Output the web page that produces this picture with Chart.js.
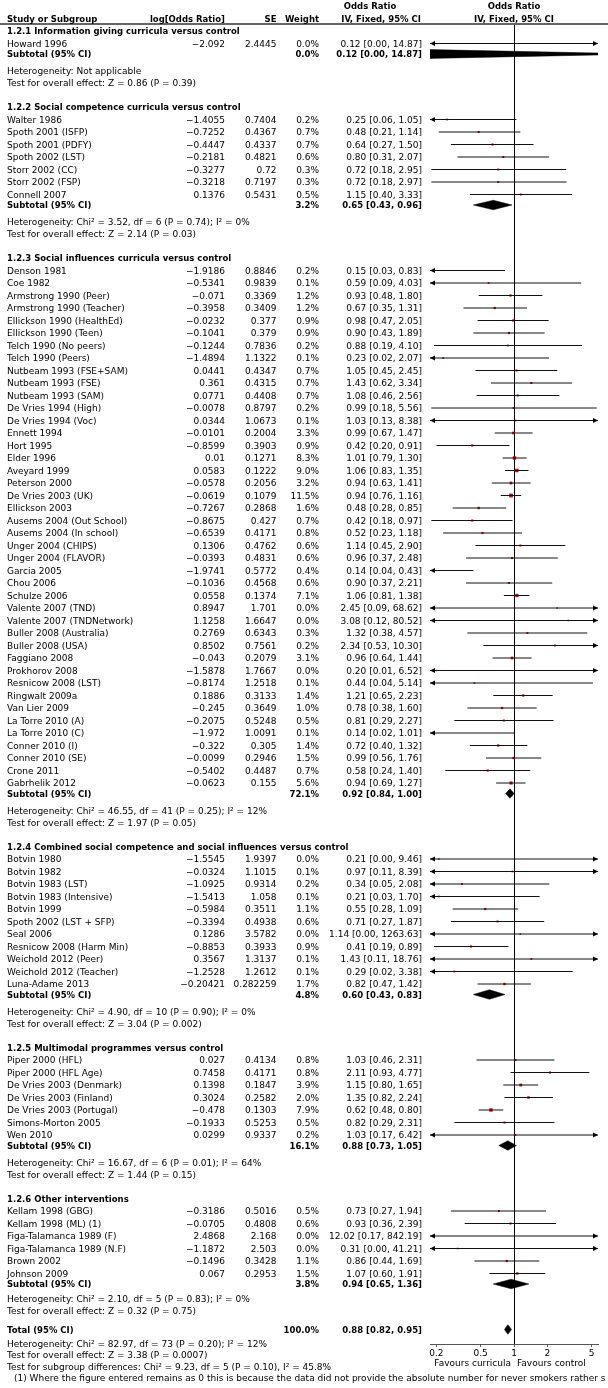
<!DOCTYPE html>
<html>
<head>
<meta charset="utf-8">
<script src="https://cdn.jsdelivr.net/npm/chart.js@4.4.1/dist/chart.umd.min.js"></script>
<style>
  html, body { margin: 0; padding: 0; background: #fff; }
  #wrap { position: relative; width: 608px; height: 1388px; overflow: hidden;
          font-family: "DejaVu Sans", sans-serif; font-size: 9px; color: #000; }
  #plot { position: absolute; left: 0; top: 0; }
  .t { position: absolute; white-space: nowrap; line-height: 12px; height: 12px; }
  .b { font-weight: bold; font-size: 8.5px; }
  .rule { position: absolute; left: 0; top: 23px; width: 608px; height: 2px; background: #666; }
</style>
</head>
<body>
<div id="wrap">
  <canvas id="plot" width="608" height="1388"></canvas>
  <div class="rule"></div>
</div>
<script>
// subgroups
const groupTitles = [
    '1.2.1 Information giving curricula versus control',
    '1.2.2 Social competence curricula versus control',
    '1.2.3 Social influences curricula versus control',
    '1.2.4 Combined social competence and social influences versus control',
    '1.2.5 Multimodal programmes versus control',
    '1.2.6 Other interventions'
];
const groupSizes = [1, 7, 42, 11, 7, 6];

// studies, in order
const studyNames = [
    'Howard 1996',
    'Walter 1986', 'Spoth 2001 (ISFP)', 'Spoth 2001 (PDFY)', 'Spoth 2002 (LST)', 'Storr 2002 (CC)', 'Storr 2002 (FSP)', 'Connell 2007',
    'Denson 1981', 'Coe 1982', 'Armstrong 1990 (Peer)', 'Armstrong 1990 (Teacher)', 'Ellickson 1990 (HealthEd)', 'Ellickson 1990 (Teen)',
    'Telch 1990 (No peers)', 'Telch 1990 (Peers)', 'Nutbeam 1993 (FSE+SAM)', 'Nutbeam 1993 (FSE)', 'Nutbeam 1993 (SAM)', 'De Vries 1994 (High)',
    'De Vries 1994 (Voc)', 'Ennett 1994', 'Hort 1995', 'Elder 1996', 'Aveyard 1999', 'Peterson 2000', 'De Vries 2003 (UK)', 'Ellickson 2003',
    'Ausems 2004 (Out School)', 'Ausems 2004 (In school)', 'Unger 2004 (CHIPS)', 'Unger 2004 (FLAVOR)', 'Garcia 2005', 'Chou 2006', 'Schulze 2006',
    'Valente 2007 (TND)', 'Valente 2007 (TNDNetwork)', 'Buller 2008 (Australia)', 'Buller 2008 (USA)', 'Faggiano 2008', 'Prokhorov 2008',
    'Resnicow 2008 (LST)', 'Ringwalt 2009a', 'Van Lier 2009', 'La Torre 2010 (A)', 'La Torre 2010 (C)', 'Conner 2010 (I)', 'Conner 2010 (SE)',
    'Crone 2011', 'Gabrhelik 2012',
    'Botvin 1980', 'Botvin 1982', 'Botvin 1983 (LST)', 'Botvin 1983 (Intensive)', 'Botvin 1999', 'Spoth 2002 (LST + SFP)', 'Seal 2006',
    'Resnicow 2008 (Harm Min)', 'Weichold 2012 (Peer)', 'Weichold 2012 (Teacher)', 'Luna-Adame 2013',
    'Piper 2000 (HFL)', 'Piper 2000 (HFL Age)', 'De Vries 2003 (Denmark)', 'De Vries 2003 (Finland)', 'De Vries 2003 (Portugal)',
    'Simons-Morton 2005', 'Wen 2010',
    'Kellam 1998 (GBG)', 'Kellam 1998 (ML) (1)', 'Figa-Talamanca 1989 (F)', 'Figa-Talamanca 1989 (N.F)', 'Brown 2002', 'Johnson 2009'
];
const logOddsRatio = [
    -2.092,
    -1.4055, -0.7252, -0.4447, -0.2181, -0.3277, -0.3218, 0.1376,
    -1.9186, -0.5341, -0.071, -0.3958, -0.0232, -0.1041, -0.1244, -1.4894, 0.0441, 0.361, 0.0771, -0.0078, 0.0344, -0.0101,
    -0.8599, 0.01, 0.0583, -0.0578, -0.0619, -0.7267, -0.8675, -0.6539, 0.1306, -0.0393, -1.9741, -0.1036, 0.0558, 0.8947,
    1.1258, 0.2769, 0.8502, -0.043, -1.5878, -0.8174, 0.1886, -0.245, -0.2075, -1.972, -0.322, -0.0099, -0.5402, -0.0623,
    -1.5545, -0.0324, -1.0925, -1.5413, -0.5984, -0.3394, 0.1286, -0.8853, 0.3567, -1.2528, -0.20421,
    0.027, 0.7458, 0.1398, 0.3024, -0.478, -0.1933, 0.0299,
    -0.3186, -0.0705, 2.4868, -1.1872, -0.1496, 0.067
];
const stdError = [
    2.4445,
    0.7404, 0.4367, 0.4337, 0.4821, 0.72, 0.7197, 0.5431,
    0.8846, 0.9839, 0.3369, 0.3409, 0.377, 0.379, 0.7836, 1.1322, 0.4347, 0.4315, 0.4408, 0.8797, 1.0673, 0.2004,
    0.3903, 0.1271, 0.1222, 0.2056, 0.1079, 0.2868, 0.427, 0.4171, 0.4762, 0.4831, 0.5772, 0.4568, 0.1374, 1.701,
    1.6647, 0.6343, 0.7561, 0.2079, 1.7667, 1.2518, 0.3133, 0.3649, 0.5248, 1.0091, 0.305, 0.2946, 0.4487, 0.155,
    1.9397, 1.1015, 0.9314, 1.058, 0.3511, 0.4938, 3.5782, 0.3933, 1.3137, 1.2612, 0.282259,
    0.4134, 0.4171, 0.1847, 0.2582, 0.1303, 0.5253, 0.9337,
    0.5016, 0.4808, 2.168, 2.503, 0.3428, 0.2953
];
const weightPct = [
    0.0,
    0.2, 0.7, 0.7, 0.6, 0.3, 0.3, 0.5,
    0.2, 0.1, 1.2, 1.2, 0.9, 0.9, 0.2, 0.1, 0.7, 0.7, 0.7, 0.2, 0.1, 3.3,
    0.9, 8.3, 9.0, 3.2, 11.5, 1.6, 0.7, 0.8, 0.6, 0.6, 0.4, 0.6, 7.1, 0.0,
    0.0, 0.3, 0.2, 3.1, 0.0, 0.1, 1.4, 1.0, 0.5, 0.1, 1.4, 1.5, 0.7, 5.6,
    0.0, 0.1, 0.2, 0.1, 1.1, 0.6, 0.0, 0.9, 0.1, 0.1, 1.7,
    0.8, 0.8, 3.9, 2.0, 7.9, 0.5, 0.2,
    0.5, 0.6, 0.0, 0.0, 1.1, 1.5
];
const oddsRatio = [
    0.12,
    0.25, 0.48, 0.64, 0.80, 0.72, 0.72, 1.15,
    0.15, 0.59, 0.93, 0.67, 0.98, 0.90, 0.88, 0.23, 1.05, 1.43, 1.08, 0.99, 1.03, 0.99,
    0.42, 1.01, 1.06, 0.94, 0.94, 0.48, 0.42, 0.52, 1.14, 0.96, 0.14, 0.90, 1.06, 2.45,
    3.08, 1.32, 2.34, 0.96, 0.20, 0.44, 1.21, 0.78, 0.81, 0.14, 0.72, 0.99, 0.58, 0.94,
    0.21, 0.97, 0.34, 0.21, 0.55, 0.71, 1.14, 0.41, 1.43, 0.29, 0.82,
    1.03, 2.11, 1.15, 1.35, 0.62, 0.82, 1.03,
    0.73, 0.93, 12.02, 0.31, 0.86, 1.07
];
const ciLower = [
    0.00,
    0.06, 0.21, 0.27, 0.31, 0.18, 0.18, 0.40,
    0.03, 0.09, 0.48, 0.35, 0.47, 0.43, 0.19, 0.02, 0.45, 0.62, 0.46, 0.18, 0.13, 0.67,
    0.20, 0.79, 0.83, 0.63, 0.76, 0.28, 0.18, 0.23, 0.45, 0.37, 0.04, 0.37, 0.81, 0.09,
    0.12, 0.38, 0.53, 0.64, 0.01, 0.04, 0.65, 0.38, 0.29, 0.02, 0.40, 0.56, 0.24, 0.69,
    0.00, 0.11, 0.05, 0.03, 0.28, 0.27, 0.00, 0.19, 0.11, 0.02, 0.47,
    0.46, 0.93, 0.80, 0.82, 0.48, 0.29, 0.17,
    0.27, 0.36, 0.17, 0.00, 0.44, 0.60
];
const ciUpper = [
    14.87,
    1.05, 1.14, 1.50, 2.07, 2.95, 2.97, 3.33,
    0.83, 4.03, 1.80, 1.31, 2.05, 1.89, 4.10, 2.07, 2.45, 3.34, 2.56, 5.56, 8.38, 1.47,
    0.91, 1.30, 1.35, 1.41, 1.16, 0.85, 0.97, 1.18, 2.90, 2.48, 0.43, 2.21, 1.38, 68.62,
    80.52, 4.57, 10.30, 1.44, 6.52, 5.14, 2.23, 1.60, 2.27, 1.01, 1.32, 1.76, 1.40, 1.27,
    9.46, 8.39, 2.08, 1.70, 1.09, 1.87, 1263.63, 0.89, 18.76, 3.38, 1.42,
    2.31, 4.77, 1.65, 2.24, 0.80, 2.31, 6.42,
    1.94, 2.39, 842.19, 41.21, 1.69, 1.91
];

// subtotals
const subWeight = [0.0, 3.2, 72.1, 4.8, 16.1, 3.8];
const subOddsRatio = [0.12, 0.65, 0.92, 0.60, 0.88, 0.94];
const subLower = [0.00, 0.43, 0.84, 0.43, 0.73, 0.65];
const subUpper = [14.87, 0.96, 1.00, 0.83, 1.05, 1.36];
const hetLines = [
    'Heterogeneity: Not applicable',
    'Heterogeneity: Chi\u00b2 = 3.52, df = 6 (P = 0.74); I\u00b2 = 0%',
    'Heterogeneity: Chi\u00b2 = 46.55, df = 41 (P = 0.25); I\u00b2 = 12%',
    'Heterogeneity: Chi\u00b2 = 4.90, df = 10 (P = 0.90); I\u00b2 = 0%',
    'Heterogeneity: Chi\u00b2 = 16.67, df = 6 (P = 0.01); I\u00b2 = 64%',
    'Heterogeneity: Chi\u00b2 = 2.10, df = 5 (P = 0.83); I\u00b2 = 0%'
];
const effectLines = [
    'Test for overall effect: Z = 0.86 (P = 0.39)',
    'Test for overall effect: Z = 2.14 (P = 0.03)',
    'Test for overall effect: Z = 1.97 (P = 0.05)',
    'Test for overall effect: Z = 3.04 (P = 0.002)',
    'Test for overall effect: Z = 1.44 (P = 0.15)',
    'Test for overall effect: Z = 0.32 (P = 0.75)'
];

// overall
const totalWeight = [100.0];
const totalEstimate = [0.88, 0.82, 0.95];
const totalLines = [
    'Heterogeneity: Chi\u00b2 = 82.97, df = 73 (P = 0.20); I\u00b2 = 12%',
    'Test for overall effect: Z = 3.38 (P = 0.0007)',
    'Test for subgroup differences: Chi\u00b2 = 9.23, df = 5 (P = 0.10), I\u00b2 = 45.8%'
];
const footnote = '(1) Where the figure entered remains as 0 this is because the data did not provide the absolute number for never smokers rather s';

// axis
const xTicks = [0.2, 0.5, 1, 2, 5];
const xRange = [0.175, 5.71];
const sideLabels = ['Favours curricula', 'Favours control'];


// ---- row layout (pixels down the page) ----
const ROW = 12.5;
const rowY = { title: [], study: [], sub: [], het: [], test: [] };
let y = 31;
groupSizes.forEach((n, g) => {
    const last = g === groupSizes.length - 1;
    rowY.title.push(y);
    for (let i = 0; i < n; i++) {
        y += ROW;
        rowY.study.push(y);
    }
    y += 10.5; rowY.sub.push(y);
    y += last ? 15 : 17; rowY.het.push(y);
    y += last ? 11.5 : 12; rowY.test.push(y);
    y += last ? 19 : 24;
});
const totalY = y;
const AXIS_Y = 1344;

// ---- text ----
const wrap = document.getElementById('wrap');
const COL = { name: 7, logor: 225, se: 276.5, weight: 319, ci: 422 };

function put(text, x, yc, align, bold) {
    const d = document.createElement('div');
    d.className = 't' + (bold ? ' b' : '');
    d.textContent = text;
    d.style.top = (yc - 6) + 'px';
    if (align === 'left') {
        d.style.left = x + 'px';
    } else if (align === 'right') {
        d.style.right = (608 - x) + 'px';
    } else {
        d.style.left = (x - 100) + 'px';
        d.style.width = '200px';
        d.style.textAlign = 'center';
    }
    wrap.appendChild(d);
}
const minus = s => s.replace('-', '\u2212');
const ciText = (e, lo, hi) => e.toFixed(2) + ' [' + lo.toFixed(2) + ', ' + hi.toFixed(2) + ']';

put('Odds Ratio', 370, 6, 'center', true);
put('Odds Ratio', 514, 6, 'center', true);
put('Study or Subgroup', COL.name, 18.5, 'left', true);
put('log[Odds Ratio]', COL.logor, 18.5, 'right', true);
put('SE', COL.se, 18.5, 'right', true);
put('Weight', COL.weight, 18.5, 'right', true);
put('IV, Fixed, 95% CI', COL.ci - 1, 18.5, 'right', true);
put('IV, Fixed, 95% CI', 514, 18.5, 'center', true);

let k = 0;
groupSizes.forEach((n, g) => {
    put(groupTitles[g], COL.name, rowY.title[g], 'left', true);
    for (let i = 0; i < n; i++, k++) {
        const yy = rowY.study[k];
        put(studyNames[k], COL.name, yy, 'left', false);
        put(minus(String(logOddsRatio[k])), COL.logor, yy, 'right', false);
        put(String(stdError[k]), COL.se, yy, 'right', false);
        put(weightPct[k].toFixed(1) + '%', COL.weight, yy, 'right', false);
        put(ciText(oddsRatio[k], ciLower[k], ciUpper[k]), COL.ci, yy, 'right', false);
    }
    put('Subtotal (95% CI)', COL.name, rowY.sub[g], 'left', true);
    put(subWeight[g].toFixed(1) + '%', COL.weight, rowY.sub[g], 'right', true);
    put(ciText(subOddsRatio[g], subLower[g], subUpper[g]), COL.ci, rowY.sub[g], 'right', true);
    put(hetLines[g], COL.name, rowY.het[g], 'left', false);
    put(effectLines[g], COL.name, rowY.test[g], 'left', false);
});
put('Total (95% CI)', COL.name, totalY, 'left', true);
put(totalWeight[0].toFixed(1) + '%', COL.weight, totalY, 'right', true);
put(ciText(totalEstimate[0], totalEstimate[1], totalEstimate[2]), COL.ci, totalY, 'right', true);
put(totalLines[0], COL.name, totalY + 14, 'left', false);
put(totalLines[1], COL.name, totalY + 25.5, 'left', false);
put(totalLines[2], COL.name, totalY + 37, 'left', false);
put(footnote, 14, totalY + 48.5, 'left', false);
put(sideLabels[0], 511, 1363, 'right', false);
put(sideLabels[1], 517, 1363, 'left', false);

// ---- chart ----
const ciData = [];
studyNames.forEach((_, i) => {
    ciData.push({ x: Math.max(ciLower[i], 0.001), y: rowY.study[i] });
    ciData.push({ x: ciUpper[i], y: rowY.study[i] });
    ciData.push({ x: oddsRatio[i], y: null });
});

const DIA = 4.75;
function diamond(est, lo, hi, yc) {
    const l = Math.max(lo, 0.001);
    return [{ x: l, y: yc }, { x: est, y: yc - DIA }, { x: hi, y: yc }, { x: est, y: yc + DIA }, { x: l, y: yc }];
}
const diamondSets = subOddsRatio.map((e, g) => diamond(e, subLower[g], subUpper[g], rowY.sub[g]));
diamondSets.push(diamond(totalEstimate[0], totalEstimate[1], totalEstimate[2], totalY));

function arrowHead(ctx, tipX, py, dir) {
    ctx.beginPath();
    ctx.moveTo(tipX, py);
    ctx.lineTo(tipX + dir * 5, py - 2.5);
    ctx.lineTo(tipX + dir * 5, py + 2.5);
    ctx.closePath();
    ctx.fill();
}

// arrows for intervals running off the axis
const edgeArrows = {
    id: 'edgeArrows',
    afterDatasetsDraw(chart) {
        const { ctx, scales } = chart;
        const xs = scales.x, ys = scales.y;
        ctx.save();
        ctx.fillStyle = '#000';
        studyNames.forEach((_, i) => {
            const py = ys.getPixelForValue(rowY.study[i]);
            if (ciLower[i] < xs.min) arrowHead(ctx, xs.getPixelForValue(xs.min), py, 1);
            if (ciUpper[i] > xs.max) arrowHead(ctx, xs.getPixelForValue(xs.max), py, -1);
        });
        ctx.restore();
    }
};

Chart.defaults.font.family = '"DejaVu Sans", sans-serif';
Chart.defaults.color = '#000';

const datasets = [
    {
        type: 'line',
        data: ciData,
        borderColor: '#111',
        borderWidth: 1,
        pointRadius: 0,
        spanGaps: false,
        fill: false
    },
    {
        type: 'scatter',
        data: studyNames.map((_, i) => ({ x: oddsRatio[i], y: rowY.study[i] })),
        pointStyle: 'rect',
        pointRadius: ctx => 1.1 + 0.45 * Math.sqrt(weightPct[ctx.dataIndex]),
        backgroundColor: '#cc0000',
        borderWidth: 0
    }
];
diamondSets.forEach(d => datasets.push({
    type: 'line',
    data: d,
    borderColor: '#000',
    borderWidth: 0.5,
    backgroundColor: '#000',
    pointRadius: 0,
    fill: 'shape'
}));

new Chart(document.getElementById('plot'), {
    type: 'line',
    data: { datasets: datasets },
    options: {
        responsive: false,
        animation: false,
        devicePixelRatio: 1,
        events: [],
        layout: { padding: { left: 430, right: 10, top: 24, bottom: 1388 - AXIS_Y - 24 } },
        plugins: { legend: { display: false }, tooltip: { enabled: false } },
        scales: {
            x: {
                type: 'logarithmic',
                position: 'bottom',
                min: xRange[0],
                max: xRange[1],
                afterBuildTicks: s => { s.ticks = xTicks.map(v => ({ value: v })); },
                afterFit: s => { s.height = 24; },
                ticks: {
                    autoSkip: false,
                    maxRotation: 0,
                    padding: 1,
                    font: { size: 9 },
                    color: '#000',
                    callback: v => String(v)
                },
                grid: {
                    drawOnChartArea: true,
                    color: c => (c.tick && c.tick.value === 1) ? '#000' : 'rgba(0,0,0,0)',
                    tickColor: '#555',
                    tickLength: 3,
                    lineWidth: 1
                },
                border: { display: true, color: '#555', width: 1 }
            },
            y: {
                type: 'linear',
                display: false,
                reverse: true,
                min: 24,
                max: AXIS_Y
            }
        }
    },
    plugins: [edgeArrows]
});
</script>
</body>
</html>
